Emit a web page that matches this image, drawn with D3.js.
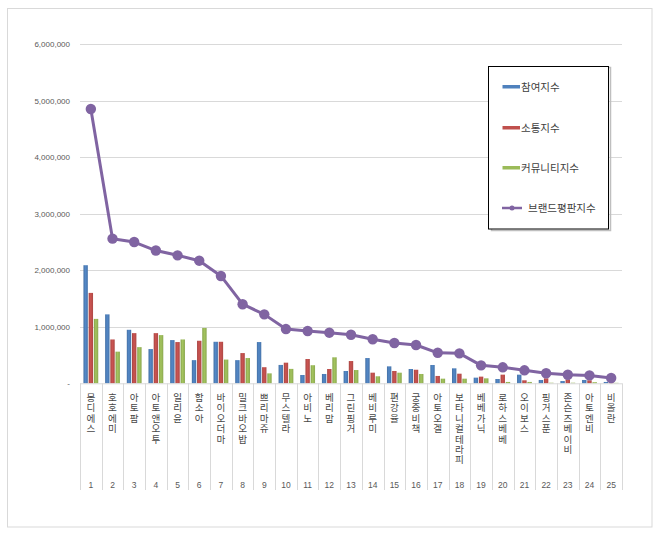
<!DOCTYPE html>
<html>
<head>
<meta charset="utf-8">
<script src="https://cdn.jsdelivr.net/npm/d3@7"></script>
<style>
  html, body { margin: 0; padding: 0; background: #fff; }
  svg { display: block; font-family: "Noto Sans CJK KR", "Noto Sans", sans-serif; }
  .vlab { writing-mode: vertical-rl; text-orientation: upright; }
</style>
</head>
<body>
<svg id="chart" width="660" height="536"></svg>
<script>
const categories = ["몽디에스","호호에미","아토팜","아토앤오투","일리윤","함소아","바이오더마","밀크바오밥","쁘리마쥬","무스텔라","아비노","베리맘","그린핑거","베비루미","편강율","궁중비책","아토오겔","보타니컬테라피","베베가닉","로하스베베","오이보스","핑거스푼","존슨즈베이비","아토엔비","비올란"];
const ranks = ["1","2","3","4","5","6","7","8","9","10","11","12","13","14","15","16","17","18","19","20","21","22","23","24","25"];
const participation = [2090000,1220000,947000,606000,765000,410000,735000,410000,730000,325000,147000,165000,218000,447000,300000,253000,324000,265000,100000,76000,153000,59000,40000,59000,24000];
const communication = [1600000,776000,888000,888000,730000,753000,735000,535000,285000,365000,430000,253000,394000,188000,218000,240000,130000,170000,118000,153000,53000,88000,70000,53000,30000];
const community = [1140000,560000,640000,853000,776000,980000,420000,447000,176000,255000,320000,460000,235000,124000,188000,165000,82000,82000,88000,24000,24000,10000,10000,20000,8000];
const brandIndex = [4855000,2560000,2500000,2350000,2265000,2170000,1900000,1400000,1220000,960000,925000,896000,860000,780000,713000,678000,540000,530000,318000,283000,230000,177000,152000,140000,94000];
const yTicks = [0,1000000,2000000,3000000,4000000,5000000,6000000];
const seriesNames = ["참여지수","소통지수","커뮤니티지수","브랜드평판지수"];
const colors = ["#4F81BD","#C0504D","#9BBB59","#8064A2"];

const svg = d3.select("#chart");
const defs = svg.append("defs");
const barSeries = [participation, communication, community];
barSeries.forEach((s, i) => {
  const c = d3.color(colors[i]);
  const g = defs.append("linearGradient").attr("id", "g" + i).attr("x1", "0").attr("x2", "1").attr("y1", "0").attr("y2", "0");
  g.append("stop").attr("offset", "0%").attr("stop-color", c.darker(0.4));
  g.append("stop").attr("offset", "45%").attr("stop-color", c.brighter(0.15));
  g.append("stop").attr("offset", "100%").attr("stop-color", c.darker(0.3));
});

svg.append("rect").attr("x", 7.5).attr("y", 8.5).attr("width", 644.5).attr("height", 518.5)
  .attr("fill", "#fff").attr("stroke", "#d9d9d9").attr("stroke-width", 1);

const pLeft = 80, pRight = 622, pTop = 44.3, pBottom = 383.3;
const x = d3.scaleBand().domain(categories).range([pLeft, pRight]).padding(0);
const y = d3.scaleLinear().domain([0, 6000000]).range([pBottom, pTop]);

svg.append("g").selectAll("line").data(yTicks.filter(d => d > 0)).join("line")
  .attr("x1", pLeft).attr("x2", pRight)
  .attr("y1", d => Math.round(y(d)) + 0.5).attr("y2", d => Math.round(y(d)) + 0.5)
  .attr("stroke", "#d9d9d9").attr("stroke-width", 1);

const yAxis = d3.axisLeft(y).tickValues(yTicks).tickSize(0).tickPadding(10)
  .tickFormat(d => d === 0 ? "-" : d3.format(",")(d));
const yg = svg.append("g").attr("transform", `translate(${pLeft},0)`).call(yAxis);
yg.select(".domain").remove();
yg.selectAll("text").attr("fill", "#595959").style("font-size", "8px")
  .style("font-family", "'Liberation Sans', Arial, sans-serif");

const bw = 4.4, step = 5.2;
barSeries.forEach((s, i) => {
  svg.append("g").selectAll("rect").data(s).join("rect")
    .attr("x", (d, j) => x(categories[j]) + x.bandwidth() / 2 + (i - 1) * step - bw / 2)
    .attr("width", bw)
    .attr("y", d => y(d))
    .attr("height", d => pBottom - y(d))
    .attr("fill", `url(#g${i})`);
});

svg.append("line").attr("x1", pLeft).attr("x2", pRight).attr("y1", pBottom + 0.5).attr("y2", pBottom + 0.5)
  .attr("stroke", "#d9d9d9");
const seps = categories.map(c => x(c)).concat([pRight]);
svg.append("g").selectAll("line").data(seps).join("line")
  .attr("x1", d => Math.round(d) + 0.5).attr("x2", d => Math.round(d) + 0.5)
  .attr("y1", pBottom).attr("y2", 490)
  .attr("stroke", "#d9d9d9");

svg.append("g").selectAll("text").data(categories).join("text")
  .attr("class", "vlab")
  .attr("x", d => x(d) + x.bandwidth() / 2)
  .attr("y", 392.5)
  .attr("fill", "#474747")
  .style("font-size", "9.6px")
  .style("letter-spacing", "0.8px")
  .text(d => d);

svg.append("g").selectAll("text").data(ranks).join("text")
  .attr("x", (d, j) => x(categories[j]) + x.bandwidth() / 2)
  .attr("y", 488).attr("text-anchor", "middle").attr("fill", "#595959")
  .style("font-size", "8.5px").style("font-family", "'Liberation Sans', Arial, sans-serif")
  .text(d => d);

const line = d3.line().x((d, j) => x(categories[j]) + x.bandwidth() / 2).y(d => y(d));
svg.append("path").datum(brandIndex).attr("d", line)
  .attr("fill", "none").attr("stroke", colors[3]).attr("stroke-width", 3).attr("stroke-linejoin", "round");
svg.append("g").selectAll("circle").data(brandIndex).join("circle")
  .attr("cx", (d, j) => x(categories[j]) + x.bandwidth() / 2)
  .attr("cy", d => y(d)).attr("r", 5.2).attr("fill", colors[3]);

svg.append("rect").attr("x", 490.5).attr("y", 66.5).attr("width", 119).attr("height", 163)
  .attr("fill", "none").attr("stroke", "#bfbfbf").attr("stroke-width", 1.5).attr("transform", "translate(1,1)");
svg.append("rect").attr("x", 488.5).attr("y", 66.5).attr("width", 120).attr("height", 162.5)
  .attr("fill", "#fff").attr("stroke", "#000").attr("stroke-width", 1);
const legY = [87, 128, 168, 208];
seriesNames.forEach((n, i) => {
  const g = svg.append("g");
  if (i < 3) {
    g.append("rect").attr("x", 502.5).attr("y", legY[i] - 2).attr("width", 17.5).attr("height", 3.5).attr("fill", colors[i]);
    g.append("text").attr("x", 521).attr("y", legY[i] + 4).attr("fill", "#404040").style("font-size", "10.5px").text(n);
  } else {
    g.append("line").attr("x1", 502).attr("x2", 522).attr("y1", legY[i]).attr("y2", legY[i])
      .attr("stroke", colors[3]).attr("stroke-width", 2.5);
    g.append("circle").attr("cx", 512).attr("cy", legY[i]).attr("r", 2.5).attr("fill", colors[3]);
    g.append("text").attr("x", 528).attr("y", legY[i] + 4).attr("fill", "#404040").style("font-size", "10.5px").text(n);
  }
});
</script>
</body>
</html>
